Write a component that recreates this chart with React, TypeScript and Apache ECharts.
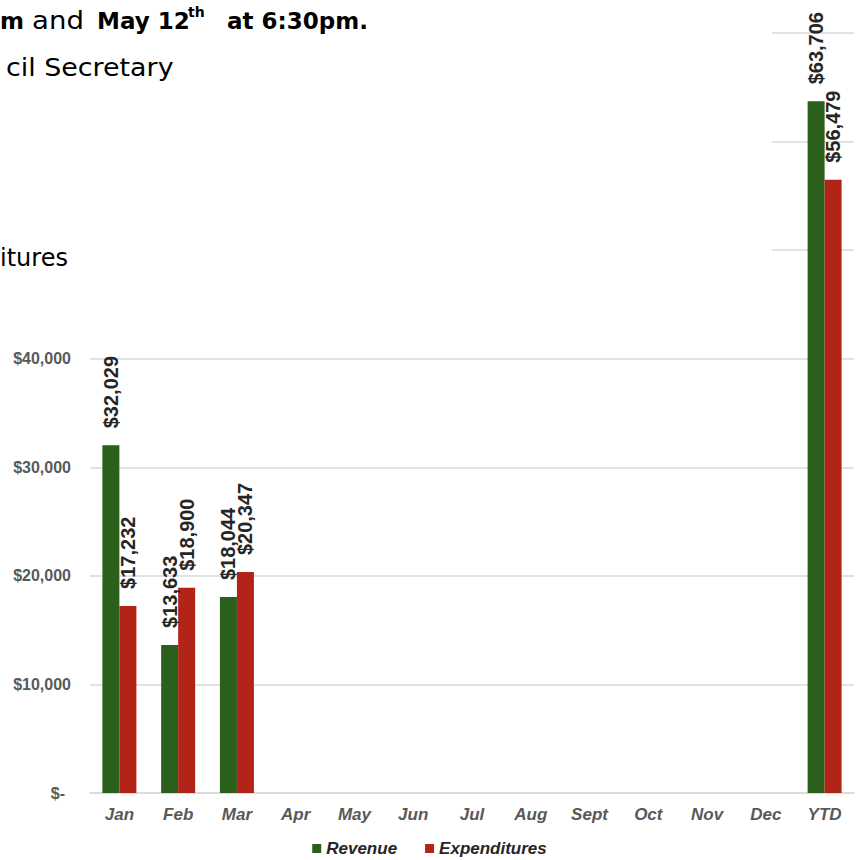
import React, { useEffect, useRef } from 'react';
import * as echarts from 'echarts';

const categories = ['Jan', 'Feb', 'Mar', 'Apr', 'May', 'Jun', 'Jul', 'Aug', 'Sept', 'Oct', 'Nov', 'Dec', 'YTD'];
const revenue = [32029, 13633, 18044, null, null, null, null, null, null, null, null, null, 63706];
const expenditures = [17232, 18900, 20347, null, null, null, null, null, null, null, null, null, 56479];
const seriesNames = ['Revenue', 'Expenditures'];
const yMin = 0;
const yMax = 70000;
const yStep = 10000;
const yLabelVisibleMax = 40000;

const fmt = (v: number) => '$' + Number(v).toLocaleString('en-US');

export default function App() {
  const ref = useRef<HTMLDivElement>(null);
  useEffect(() => {
    const chart = echarts.init(ref.current!, null, { renderer: 'svg' });
    const barLabel = {
      show: true,
      position: 'top',
      rotate: 90,
      align: 'left',
      verticalAlign: 'middle',
      distance: 17,
      formatter: (p: any) => fmt(p.value),
      fontSize: 20,
      fontWeight: 'bold',
      color: '#262626',
      fontFamily: 'Liberation Sans',
    };
    const docFont = 'DejaVu Sans';
    chart.setOption({
      animation: false,
      backgroundColor: '#ffffff',
      grid: { left: 90, right: 5, top: 33, bottom: 67, containLabel: false },
      legend: {
        data: seriesNames,
        left: 'center',
        top: 835,
        icon: 'rect',
        itemWidth: 9,
        itemHeight: 9,
        itemGap: 28,
        textStyle: {
          fontSize: 17,
          fontStyle: 'italic',
          fontWeight: 'bold',
          color: '#262626',
          fontFamily: 'Liberation Sans',
        },
      },
      xAxis: {
        type: 'category',
        data: categories,
        axisLine: { show: true, lineStyle: { color: '#d9d9d9', width: 1.5 } },
        axisTick: { show: false },
        axisLabel: {
          interval: 0,
          color: '#595959',
          fontStyle: 'italic',
          fontWeight: 'bold',
          fontSize: 17,
          fontFamily: 'Liberation Sans',
          margin: 13,
        },
      },
      yAxis: {
        type: 'value',
        min: yMin,
        max: yMax,
        interval: yStep,
        axisLine: { show: false },
        axisTick: { show: false },
        splitLine: { lineStyle: { color: '#d9d9d9', width: 1.5 } },
        axisLabel: {
          margin: 19,
          color: '#595959',
          fontWeight: 'bold',
          fontSize: 16,
          fontFamily: 'Liberation Sans',
          formatter: (v: number) => (v === 0 ? '{z|$-}' : v > yLabelVisibleMax ? '' : fmt(v)),
          rich: {
            z: {
              padding: [0, 6, 0, 0],
              color: '#595959',
              fontWeight: 'bold',
              fontSize: 16,
              fontFamily: 'Liberation Sans',
            },
          },
        },
      },
      series: [
        {
          name: seriesNames[0],
          type: 'bar',
          data: revenue,
          barWidth: 17,
          barGap: '0%',
          itemStyle: { color: '#2b5f1c' },
          label: barLabel,
        },
        {
          name: seriesNames[1],
          type: 'bar',
          data: expenditures,
          barWidth: 17,
          barGap: '0%',
          itemStyle: { color: '#b12417' },
          label: barLabel,
        },
      ],
      graphic: [
        { type: 'rect', z: 100, shape: { x: 0, y: 0, width: 772, height: 300 }, style: { fill: '#ffffff' } },
        { type: 'text', z: 101, x: 0, y: 21, style: { text: 'm', fontSize: 23, fontWeight: 'bold', fontFamily: docFont, fill: '#000', verticalAlign: 'middle' } },
        { type: 'text', z: 101, x: 32, y: 21, scaleX: 1.15, style: { text: 'and', fontSize: 24, fontWeight: 'normal', fontFamily: docFont, fill: '#000', verticalAlign: 'middle' } },
        { type: 'text', z: 101, x: 97, y: 21, style: { text: 'May 12', fontSize: 23, fontWeight: 'bold', fontFamily: docFont, fill: '#000', verticalAlign: 'middle' } },
        { type: 'text', z: 101, x: 188, y: 12, style: { text: 'th', fontSize: 14, fontWeight: 'bold', fontFamily: docFont, fill: '#000', verticalAlign: 'middle' } },
        { type: 'text', z: 101, x: 227, y: 21, style: { text: 'at 6:30pm.', fontSize: 23, fontWeight: 'bold', fontFamily: docFont, fill: '#000', verticalAlign: 'middle' } },
        { type: 'text', z: 101, x: 6, y: 68, scaleX: 1.12, style: { text: 'cil Secretary', fontSize: 24, fontWeight: 'normal', fontFamily: docFont, fill: '#000', verticalAlign: 'middle' } },
        { type: 'text', z: 101, x: 0, y: 258, style: { text: 'itures', fontSize: 24, fontWeight: 'normal', fontFamily: docFont, fill: '#000', verticalAlign: 'middle' } },
      ],
    });
    return () => chart.dispose();
  }, []);
  return <div ref={ref} style={{ position: 'fixed', left: 0, top: 0, width: 859, height: 860 }} />;
}
